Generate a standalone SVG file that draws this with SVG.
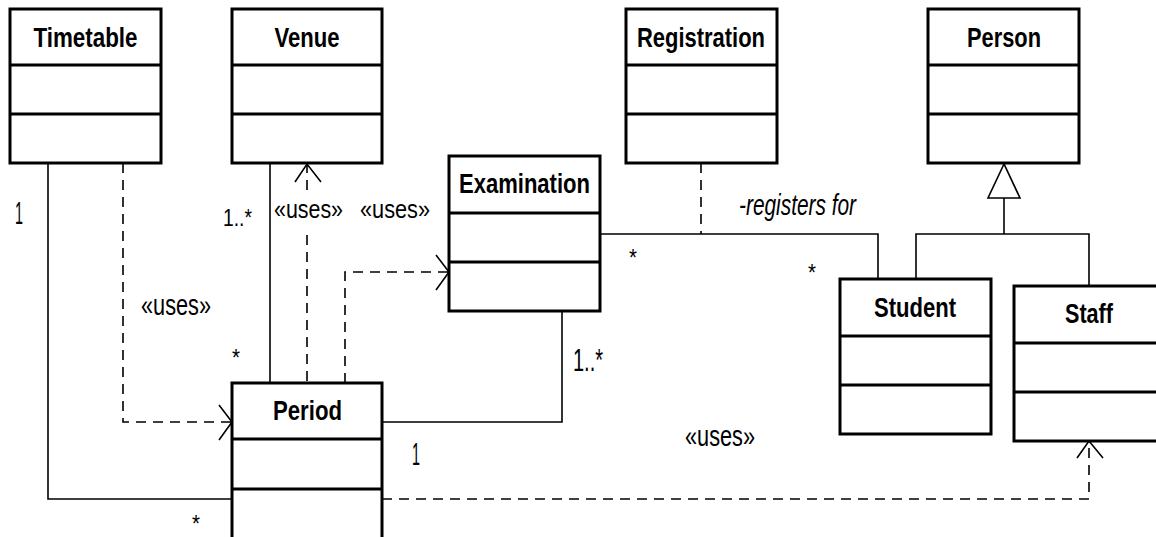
<svg xmlns="http://www.w3.org/2000/svg" width="1156" height="537" viewBox="0 0 1156 537">
<style>
.box{fill:#fff;stroke:#000;stroke-width:3}
.div{stroke:#000;stroke-width:3}
.t{font-family:"Liberation Sans Narrow","Liberation Sans",Arial,sans-serif;font-weight:bold;font-size:28px;text-anchor:middle;fill:#000}
.l{font-family:"Liberation Sans Narrow","Liberation Sans",Arial,sans-serif;font-size:30px;fill:#000}
.u{font-family:"Liberation Sans Narrow","Liberation Sans",Arial,sans-serif;font-size:26px;fill:#000}
.n{font-family:"Liberation Sans Narrow","Liberation Sans",Arial,sans-serif;font-size:32px;fill:#000}
.s{font-family:"Liberation Sans Narrow","Liberation Sans",Arial,sans-serif;font-size:24px;fill:#000}
.ln{fill:none;stroke:#000;stroke-width:1.6}
.ds{fill:none;stroke:#000;stroke-width:1.6;stroke-dasharray:10 7}
</style>
<rect width="1156" height="537" fill="#fff"/>
<g id="connectors">
<polyline class="ln" points="48,163 48,499 232,499"/>
<polyline class="ds" points="123,163 123,422 232,422"/>
<polyline class="ln" points="219,405 232,422 219,440"/>
<line class="ln" x1="270" y1="163" x2="270" y2="383"/>
<line class="ds" x1="307" y1="163" x2="307" y2="193"/>
<line class="ds" x1="307" y1="235" x2="307" y2="383"/>
<polyline class="ln" points="295,182 307,164 321,182"/>
<polyline class="ds" points="345,383 345,272 449,272"/>
<polyline class="ln" points="436,255 449,272 436,290"/>
<polyline class="ln" points="382,422 562,422 562,311"/>
<polyline class="ds" points="382,499 1089,499 1089,441"/>
<polyline class="ln" points="1077,458 1089,441 1103,458"/>
<polyline class="ln" points="600,234 878,234 878,279"/>
<line class="ds" x1="701" y1="163" x2="701" y2="234"/>
<polygon points="1004,164 988,198 1020,198" fill="#fff" stroke="#000" stroke-width="1.6"/>
<line class="ln" x1="1004" y1="198" x2="1004" y2="234"/>
<polyline class="ln" points="916,279 916,234 1089,234 1089,286"/>
<text class="n" x="15" y="224" textLength="8" lengthAdjust="spacingAndGlyphs">1</text>
<text class="s" x="223" y="226" textLength="29" lengthAdjust="spacingAndGlyphs">1..*</text>
<text class="u" x="274" y="218" textLength="69" lengthAdjust="spacingAndGlyphs">«uses»</text>
<text class="u" x="360" y="218" textLength="70" lengthAdjust="spacingAndGlyphs">«uses»</text>
<text class="l" x="141" y="315" textLength="70" lengthAdjust="spacingAndGlyphs">«uses»</text>
<text class="s" x="232" y="366" textLength="8" lengthAdjust="spacingAndGlyphs">*</text>
<text class="s" x="192" y="532" textLength="8" lengthAdjust="spacingAndGlyphs">*</text>
<text class="s" x="629" y="266" textLength="8" lengthAdjust="spacingAndGlyphs">*</text>
<text class="s" x="808" y="281" textLength="8" lengthAdjust="spacingAndGlyphs">*</text>
<text class="l" x="739" y="215" font-style="italic" textLength="117" lengthAdjust="spacingAndGlyphs">-registers for</text>
<text class="n" x="573" y="371" textLength="30" lengthAdjust="spacingAndGlyphs">1..*</text>
<text class="n" x="412" y="465" textLength="8" lengthAdjust="spacingAndGlyphs">1</text>
<text class="l" x="685" y="446" textLength="70" lengthAdjust="spacingAndGlyphs">«uses»</text>
</g>
<g id="Timetable">
<rect class="box" x="10" y="9" width="151" height="154"/>
<line class="div" x1="10" y1="65" x2="161" y2="65"/><line class="div" x1="10" y1="114" x2="161" y2="114"/>
<text class="t" x="85.5" y="47" textLength="104" lengthAdjust="spacingAndGlyphs">Timetable</text>
</g>
<g id="Venue">
<rect class="box" x="232" y="9" width="150" height="154"/>
<line class="div" x1="232" y1="65" x2="382" y2="65"/><line class="div" x1="232" y1="114" x2="382" y2="114"/>
<text class="t" x="307" y="47" textLength="65" lengthAdjust="spacingAndGlyphs">Venue</text>
</g>
<g id="Registration">
<rect class="box" x="626" y="9" width="151" height="154"/>
<line class="div" x1="626" y1="65" x2="777" y2="65"/><line class="div" x1="626" y1="114" x2="777" y2="114"/>
<text class="t" x="701" y="47" textLength="128" lengthAdjust="spacingAndGlyphs">Registration</text>
</g>
<g id="Person">
<rect class="box" x="928" y="9" width="151" height="154"/>
<line class="div" x1="928" y1="65" x2="1079" y2="65"/><line class="div" x1="928" y1="114" x2="1079" y2="114"/>
<text class="t" x="1004" y="47" textLength="74" lengthAdjust="spacingAndGlyphs">Person</text>
</g>
<g id="Examination">
<rect class="box" x="449" y="156" width="151" height="155"/>
<line class="div" x1="449" y1="213" x2="600" y2="213"/><line class="div" x1="449" y1="262" x2="600" y2="262"/>
<text class="t" x="524.5" y="193" textLength="131" lengthAdjust="spacingAndGlyphs">Examination</text>
</g>
<g id="Period">
<rect class="box" x="232" y="383" width="150" height="156"/>
<line class="div" x1="232" y1="439" x2="382" y2="439"/><line class="div" x1="232" y1="489" x2="382" y2="489"/>
<text class="t" x="307.5" y="420" textLength="69" lengthAdjust="spacingAndGlyphs">Period</text>
</g>
<g id="Student">
<rect class="box" x="840" y="279" width="151" height="155"/>
<line class="div" x1="840" y1="336" x2="991" y2="336"/><line class="div" x1="840" y1="385" x2="991" y2="385"/>
<text class="t" x="915" y="317" textLength="82" lengthAdjust="spacingAndGlyphs">Student</text>
</g>
<g id="Staff">
<rect class="box" x="1014" y="286" width="151" height="155"/>
<line class="div" x1="1014" y1="343" x2="1165" y2="343"/><line class="div" x1="1014" y1="392" x2="1165" y2="392"/>
<text class="t" x="1089" y="323" textLength="48" lengthAdjust="spacingAndGlyphs">Staff</text>
</g>
</svg>
